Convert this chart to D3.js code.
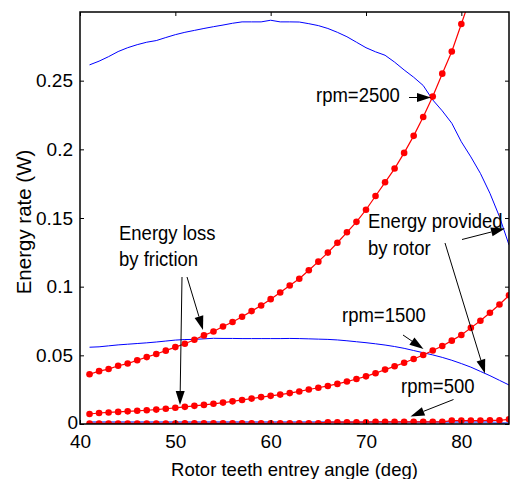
<!DOCTYPE html>
<html><head><meta charset="utf-8">
<script src="https://cdn.jsdelivr.net/npm/d3@7"></script>
<style>body{margin:0;background:#fff}svg{display:block}text{font-family:"Liberation Sans",Arial,Helvetica,sans-serif;fill:#000}</style>
</head><body>
<script>
// ---------- data ----------
const angles = [41,42,43,44,45,46,47,48,49,50,51,52,53,54,55,56,57,58,59,60,61,62,63,64,65,66,67,68,69,70,71,72,73,74,75,76,77,78,79,80,81,82,83,84,85];
const lossRpm2500 = [0.0362,0.0385,0.0400,0.0424,0.0440,0.0464,0.0487,0.0510,0.0534,0.0560,0.0584,0.0613,0.0645,0.0673,0.0710,0.0743,0.0781,0.0822,0.0863,0.0909,0.0957,0.1009,0.1058,0.1120,0.1182,0.1248,0.1320,0.1396,0.1472,0.1560,0.1660,0.1760,0.1860,0.1974,0.2098,0.2235,0.2384,0.2551,0.2712,0.2913,0.3115];
const lossRpm1500 = [0.0073,0.0080,0.0084,0.0088,0.0092,0.0096,0.0100,0.0105,0.0111,0.0118,0.0125,0.0132,0.0139,0.0147,0.0156,0.0165,0.0175,0.0185,0.0196,0.0205,0.0214,0.0225,0.0237,0.0251,0.0264,0.0277,0.0292,0.0309,0.0328,0.0347,0.0370,0.0396,0.0420,0.0446,0.0473,0.0502,0.0535,0.0568,0.0607,0.0648,0.0700,0.0752,0.0810,0.0870,0.0937];
const lossRpm500 = [0.0004,0.0004,0.0004,0.0004,0.0004,0.0004,0.0004,0.0004,0.0004,0.0004,0.0005,0.0005,0.0005,0.0005,0.0005,0.0005,0.0005,0.0005,0.0005,0.0005,0.0006,0.0006,0.0006,0.0006,0.0006,0.0013,0.0013,0.0013,0.0013,0.0013,0.0016,0.0016,0.0016,0.0016,0.0016,0.0016,0.0016,0.0016,0.0025,0.0025,0.0025,0.0025,0.0027,0.0027,0.0034];
const providedRpm2500 = [0.2615,0.2642,0.2675,0.2712,0.2740,0.2762,0.2780,0.2792,0.2814,0.2835,0.2852,0.2866,0.2880,0.2893,0.2905,0.2918,0.2928,0.2928,0.2928,0.2940,0.2928,0.2928,0.2927,0.2915,0.2901,0.2880,0.2852,0.2820,0.2780,0.2740,0.2710,0.2685,0.2635,0.2578,0.2525,0.2465,0.2360,0.2280,0.2190,0.2055,0.1945,0.1825,0.1680,0.1510,0.1304];
const providedRpm1500 = [0.0559,0.0562,0.0569,0.0576,0.0581,0.0586,0.0591,0.0597,0.0604,0.0611,0.0615,0.0616,0.0620,0.0624,0.0623,0.0623,0.0622,0.0622,0.0622,0.0622,0.0622,0.0623,0.0622,0.0620,0.0618,0.0616,0.0612,0.0606,0.0599,0.0592,0.0584,0.0575,0.0564,0.0551,0.0535,0.0519,0.0503,0.0485,0.0464,0.0440,0.0414,0.0383,0.0352,0.0318,0.0284];
const providedRpm500 = [0.0013,0.0013,0.0013,0.0013,0.0013,0.0013,0.0013,0.0013,0.0013,0.0013,0.0013,0.0013,0.0013,0.0013,0.0013,0.0013,0.0013,0.0013,0.0013,0.0013,0.0013,0.0013,0.0013,0.0013,0.0013,0.0013,0.0013,0.0013,0.0013,0.0013,0.0013,0.0013,0.0013,0.0013,0.0013,0.0013,0.0013,0.0013,0.0013,0.0013,0.0013,0.0013,0.0012,0.0006,0.0005];
const xTicks = [40,50,60,70,80];
const yTicks = [0,0.05,0.1,0.15,0.2,0.25];
const yTickLabels = ["0","0.05","0.1","0.15","0.2","0.25"];
const xLabel = "Rotor teeth entrey angle (deg)";
const yLabel = "Energy rate (W)";

// ---------- layout ----------
const W = 510, H = 479;
const L = 80, R = 509, T = 12, B = 424;
const x = d3.scaleLinear().domain([40, 85]).range([L, R]);
const y = d3.scaleLinear().domain([0, 0.3]).range([B, T]);

const svg = d3.select("body").append("svg").attr("width", W).attr("height", H);
svg.append("defs").append("clipPath").attr("id","clip")
  .append("rect").attr("x",L).attr("y",T).attr("width",R-L).attr("height",B-T);

const pts = vals => vals.map((v,i)=>[angles[i], v]);
const line = d3.line().x(d=>x(d[0])).y(d=>y(d[1]));
const plot = svg.append("g").attr("clip-path","url(#clip)");

// blue lines (energy provided)
plot.append("path").datum(pts(providedRpm500)).attr("d",line)
  .attr("fill","none").attr("stroke","#6f86ff").attr("stroke-width",2.5);
[providedRpm2500, providedRpm1500].forEach(s=>{
  plot.append("path").datum(pts(s)).attr("d",line)
    .attr("fill","none").attr("stroke","#0000ff").attr("stroke-width",1);
});
// red lines with markers (energy loss)
[lossRpm2500, lossRpm1500, lossRpm500].forEach(s=>{
  const p = pts(s);
  plot.append("path").datum(p).attr("d",line)
    .attr("fill","none").attr("stroke","#ff0000").attr("stroke-width",1.2);
  plot.append("g").selectAll("circle").data(p).join("circle")
    .attr("cx",d=>x(d[0])).attr("cy",d=>y(d[1])).attr("r",3.3).attr("fill","#ff0000");
});

// ---------- axes (box, ticks inside on all sides) ----------
const tl = 4;
const ax = svg.append("g");
ax.append("g").attr("transform",`translate(0,${B})`)
  .call(d3.axisBottom(x).tickValues(xTicks).tickSize(-tl).tickPadding(11).tickFormat(d3.format("d")))
  .call(g=>{g.select(".domain").remove();g.selectAll("text").attr("font-size",19).attr("font-family","Liberation Sans, Arial, sans-serif");});
ax.append("g").attr("transform",`translate(0,${T})`)
  .call(d3.axisTop(x).tickValues(xTicks).tickSize(-tl).tickFormat(""))
  .call(g=>g.select(".domain").remove());
ax.append("g").attr("transform",`translate(${L},0)`)
  .call(d3.axisLeft(y).tickValues(yTicks).tickSize(-tl).tickPadding(7).tickFormat((d,i)=>yTickLabels[i]))
  .call(g=>{g.select(".domain").remove();g.selectAll("text").attr("font-size",19).attr("font-family","Liberation Sans, Arial, sans-serif");
    g.selectAll(".tick").filter(d=>d===0).select("text").attr("x",-2).attr("dy","0.25em");});
ax.append("g").attr("transform",`translate(${R},0)`)
  .call(d3.axisRight(y).tickValues(yTicks).tickSize(-tl).tickFormat(""))
  .call(g=>g.select(".domain").remove());
ax.selectAll(".tick line").attr("stroke","#000");
svg.append("rect").attr("x",L).attr("y",T).attr("width",R-L).attr("height",B-T)
  .attr("fill","none").attr("stroke","#000").attr("stroke-width",1.5);

// axis labels
svg.append("text").attr("x",(L+R)/2).attr("y",476).attr("text-anchor","middle")
  .attr("font-size",18.5).text(xLabel);
svg.append("text").attr("transform",`translate(31,${222}) rotate(-90)`).attr("text-anchor","middle")
  .attr("font-size",20.5).text(yLabel);

// ---------- annotations ----------
function label(txt, tx, ty){
  svg.append("text").attr("transform",`translate(${tx},${ty}) scale(1,1.12)`)
    .attr("font-size",18.5).text(txt);
}
function arrow(x1,y1,x2,y2){
  const a = Math.atan2(y2-y1,x2-x1), hl = 14, hw = 4.5;
  const bx = x2 - hl*Math.cos(a), by = y2 - hl*Math.sin(a);
  svg.append("line").attr("x1",x1).attr("y1",y1).attr("x2",bx).attr("y2",by)
    .attr("stroke","#000").attr("stroke-width",1);
  const px = -Math.sin(a)*hw, py = Math.cos(a)*hw;
  svg.append("path").attr("d",`M${x2},${y2}L${bx+px},${by+py}L${bx-px},${by-py}Z`).attr("fill","#000");
}
label("rpm=2500", 316, 102);
arrow(409, 97.5, 431, 97.5);
label("Energy loss", 119, 240);
label("by friction", 119, 266);
arrow(182, 277, 180, 405);
arrow(187, 277, 203, 330);
label("Energy provided", 368, 228);
label("by rotor", 368, 255);
arrow(462, 239.5, 505, 228.5);
arrow(445, 243, 485, 373.5);
label("rpm=1500", 342, 322);
arrow(403, 335, 423.5, 349);
label("rpm=500", 401, 393);
arrow(453.5, 399.5, 410.5, 416.5);
</script>
</body></html>
